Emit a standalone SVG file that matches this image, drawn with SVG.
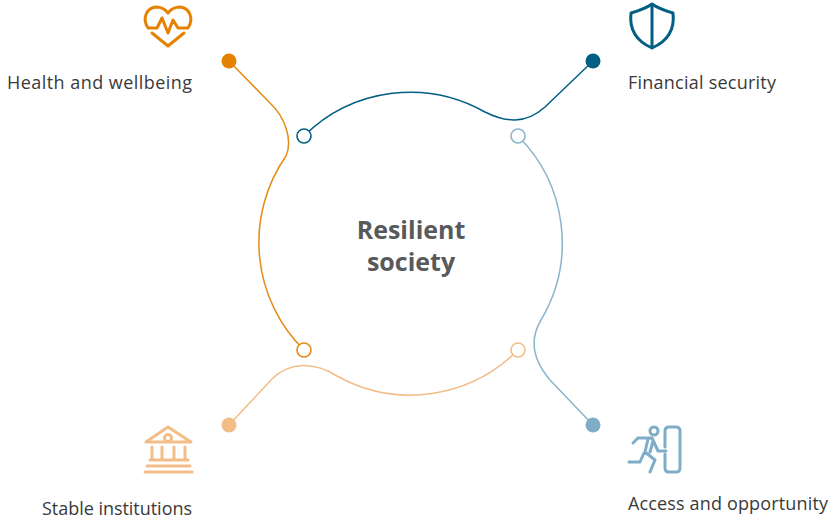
<svg xmlns="http://www.w3.org/2000/svg" width="829" height="519" viewBox="0 0 829 519">
<style>
text{font-family:"Open Sans","Noto Sans",sans-serif;fill:#3a3a3a}
.lb{font-size:18px}
.t{font-size:25px;font-weight:700;fill:#58595b;text-anchor:middle}
.c{fill:none;stroke-width:1.5;stroke-linecap:round}
.i{fill:none;stroke-width:3;stroke-linecap:round;stroke-linejoin:round}
.o{fill:#fff;stroke-width:1.6}
</style>
<rect width="829" height="519" fill="#fff"/>
<g id="connectors">
<path class="c" stroke="#e58a14" d="M229 61L270 103C285 117 293 140 286 156A151 151 0 0 0 304 350"/>
<path class="c" stroke="#005f83" d="M304 136A151 151 0 0 1 485 112C505 122 525 125 545 107L593 61"/>
<path class="c" stroke="#8ab4cd" d="M518 136A151 151 0 0 1 541 320C529 340 533 360 550 380L593 425"/>
<path class="c" stroke="#f2bd87" d="M518 350A151 151 0 0 1 337 376C315 362 290 361 272 379L229 425"/>
</g>
<g id="node-health">
<circle cx="229" cy="61" r="7.5" fill="#e58200"/>
<circle class="o" cx="304" cy="350" r="7" stroke="#e58a14"/>
<g class="i" stroke="#e58200">
<path d="M157 28H148C142 19 146 8 156 7C161 7 165 9 168 13C171 9 175 7 180 7C190 8 194 19 188 28H178L173 20L168 33L162 18L157 28"/>
<path d="M152 33L168 46L184 33"/>
</g>
<text class="lb" x="7" y="89" textLength="185">Health and wellbeing</text>
</g>
<g id="node-financial">
<circle cx="593" cy="61" r="7.5" fill="#005f83"/>
<circle class="o" cx="304" cy="136" r="7" stroke="#005f83"/>
<path class="i" stroke="#005f83" d="M652 4C645 9 638 11 631 13C629 30 636 41 652 48C668 41 675 30 673 13C666 11 659 9 652 4ZM652 4V48"/>
<text class="lb" x="628" y="89" textLength="148">Financial security</text>
</g>
<g id="node-access">
<circle cx="593" cy="425" r="7.5" fill="#7fadc8"/>
<circle class="o" cx="518" cy="136" r="7" stroke="#8ab4cd"/>
<g class="i" stroke="#7fadc8">
<circle cx="654" cy="431" r="4"/>
<path d="M665 447V431Q665 427 669 427H676Q680 427 680 431V468Q680 472 676 472H669Q665 472 665 468V454"/>
<path d="M633 443L638 438H652L658 451H666M648 439L645 452L655 460L650 472M653 441L650 452M644 453L640 462H629"/>
</g>
<text class="lb" x="628" y="510" textLength="200">Access and opportunity</text>
</g>
<g id="node-stable">
<circle cx="229" cy="425" r="7.5" fill="#f2bd87"/>
<circle class="o" cx="518" cy="350" r="7" stroke="#f2bd87"/>
<g class="i" stroke="#f2bd87">
<path d="M146 442L168 427L191 442Z"/>
<circle cx="168" cy="438" r="3.500"/>
<path d="M152 447V459M162 447V459M174 447V459M185 447V459M150 460H188M147 466H190M145 472H192"/>
</g>
<text class="lb" x="42" y="515" textLength="150">Stable institutions</text>
</g>
<g id="center">
<text class="t" x="411" y="239">Resilient</text>
<text class="t" x="411" y="271">society</text>
</g>
</svg>
